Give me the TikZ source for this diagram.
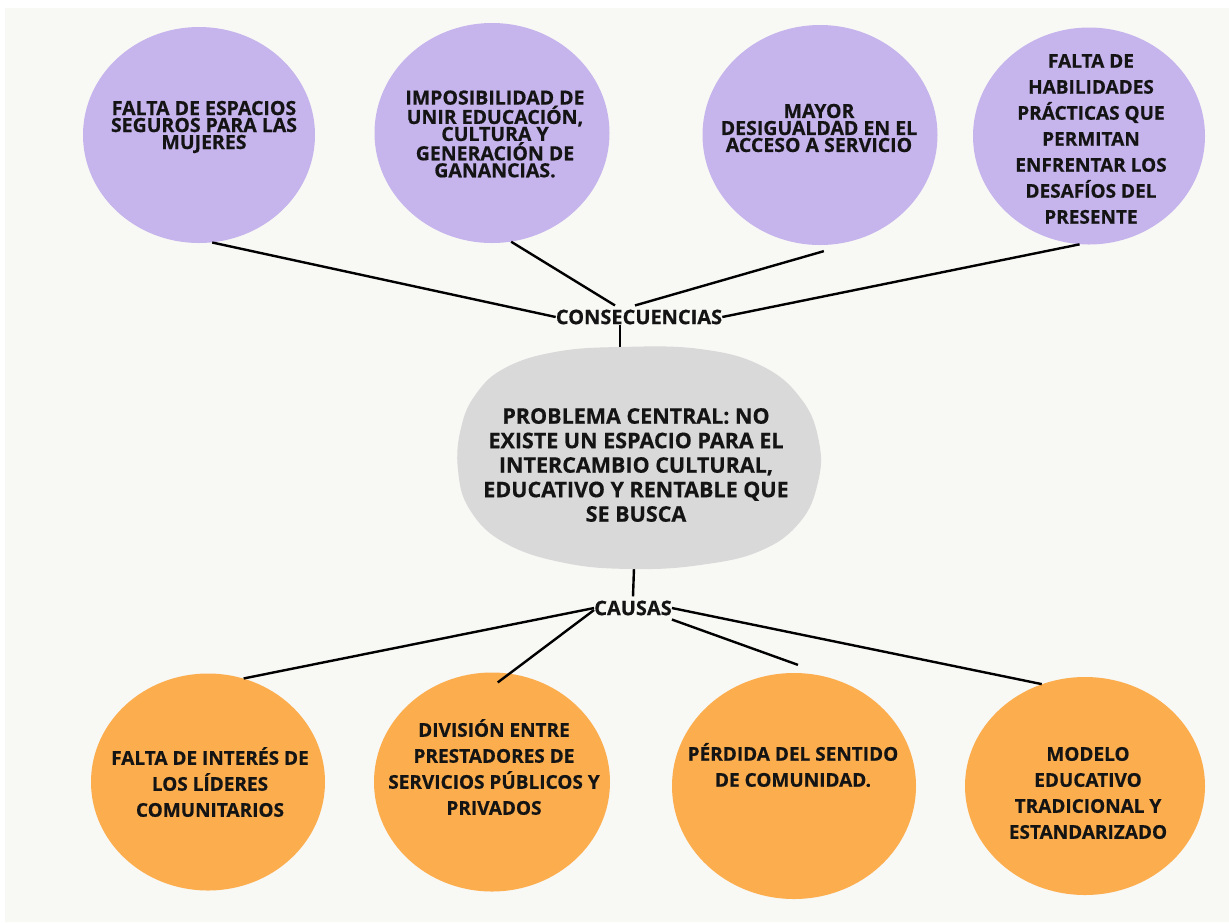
\documentclass[tikz,border=0pt]{standalone}
\usepackage{fontspec}
\setmainfont{Open Sans}[BoldFeatures={FakeBold=0.5}]
\usetikzlibrary{shapes.geometric}
\definecolor{bgc}{HTML}{F8F8F5}
\definecolor{purp}{HTML}{C6B4EC}
\definecolor{orng}{HTML}{FCAE4E}
\definecolor{blobc}{HTML}{D9D9D9}
\definecolor{txt}{HTML}{141414}
\tikzset{
  bub/.style 2 args={ellipse, inner sep=0pt, minimum width=#1pt, minimum height=#2pt},
  purpbub/.style={fill=purp, draw=none},
  orngbub/.style={fill=orng, draw=none},
  tighttxt/.style={align=center, inner sep=0pt, text=txt, font=\fontsize{19.5}{17}\selectfont\bfseries},
  loosetxt/.style={align=center, inner sep=0pt, text=txt, font=\fontsize{19}{26}\selectfont\bfseries},
  maintxt/.style={align=center, inner sep=0pt, text=txt, font=\fontsize{21.5}{24.5}\selectfont\bfseries},
  labtxt/.style={inner sep=0pt, text=txt, font=\fontsize{20}{24}\selectfont\bfseries},
  conn/.style={draw=black, line width=2.4pt}
}
\begin{document}
\begin{tikzpicture}[x=1pt,y=-1pt]
\fill[white] (0,0) rectangle (1229,922);
\fill[bgc] (5,8) rectangle (1229,922);
\useasboundingbox (0,0) rectangle (1229,922);

% consequence circles
\node[bub={232}{216}, purpbub] (c1) at (199,135) {};
\node[bub={235}{220}, purpbub] (c2) at (492,133) {};
\node[bub={235}{220}, purpbub] (c3) at (820,135) {};
\node[bub={232}{217}, purpbub] (c4) at (1089,136) {};

\node[tighttxt] (t1) at (204,127) {FALTA DE ESPACIOS\\SEGUROS PARA LAS\\MUJERES};
\node[tighttxt] (t2) at (495,134) {IMPOSIBILIDAD DE\\UNIR EDUCACIÓN,\\CULTURA Y\\GENERACIÓN DE\\GANANCIAS.};
\node[tighttxt] (t3) at (819,128) {MAYOR\\DESIGUALDAD EN EL\\ACCESO A SERVICIO};
\node[loosetxt] (t4) at (1091,139) {FALTA DE\\HABILIDADES\\PRÁCTICAS QUE\\PERMITAN\\ENFRENTAR LOS\\DESAFÍOS DEL\\PRESENTE};

% labels
\node[labtxt] (cons) at (639,317) {CONSECUENCIAS};
\node[labtxt] (caus) at (633,608) {CAUSAS};

% central blob
\coordinate (blobtop) at (620,349);
\coordinate (blobbot) at (634,568);
\draw[conn] ([xshift=-19pt]cons.south) -- (blobtop);
\draw[conn] (blobbot) -- ([yshift=4pt]caus.north);
\fill[blobc] plot[smooth cycle, tension=0.7] coordinates {
  (458,470) (461,428) (476,394) (505,368) (555,352) (620,347) (700,349)
  (762,366) (802,400) (819,442) (818,482) (800,522) (760,551) (700,565)
  (633,569) (565,563) (505,543) (470,510)};
\node[maintxt] (prob) at (636,465) {PROBLEMA CENTRAL: NO\\EXISTE UN ESPACIO PARA EL\\INTERCAMBIO CULTURAL,\\EDUCATIVO Y RENTABLE QUE\\SE BUSCA};

% cause circles
\node[bub={234}{217}, orngbub] (b1) at (208,782) {};
\node[bub={236}{219}, orngbub] (b2) at (492,782) {};
\node[bub={244}{226}, orngbub] (b3) at (794,786) {};
\node[bub={240}{218}, orngbub] (b4) at (1085,786) {};

\node[loosetxt] (u1) at (210,782) {FALTA DE INTERÉS DE\\LOS LÍDERES\\COMUNITARIOS};
\node[loosetxt] (u2) at (494,767) {DIVISIÓN ENTRE\\PRESTADORES DE\\SERVICIOS PÚBLICOS Y\\PRIVADOS};
\node[loosetxt] (u3) at (793,765) {PÉRDIDA DEL SENTIDO\\DE COMUNIDAD.};
\node[loosetxt] (u4) at (1088,793) {MODELO\\EDUCATIVO\\TRADICIONAL Y\\ESTANDARIZADO};

% connectors top
\draw[conn] (c1.-83) -- (cons.west);
\draw[conn] (c2.-80) -- ([xshift=-24pt,yshift=4pt]cons.north);
\draw[conn] ([yshift=-6pt]c3.-88) -- ([xshift=-4pt,yshift=4pt]cons.north);
\draw[conn] (c4.-95) -- (cons.east);

% connectors bottom
\draw[conn] (b1.71) -- (caus.west);
\draw[conn] ([yshift=-10pt]b2.87) -- ([yshift=-2pt]caus.west);
\draw[conn] ([yshift=8pt]b3.88) -- ([yshift=-4pt]caus.south east);
\draw[conn] (b4.113) -- (caus.east);
\end{tikzpicture}
\end{document}
